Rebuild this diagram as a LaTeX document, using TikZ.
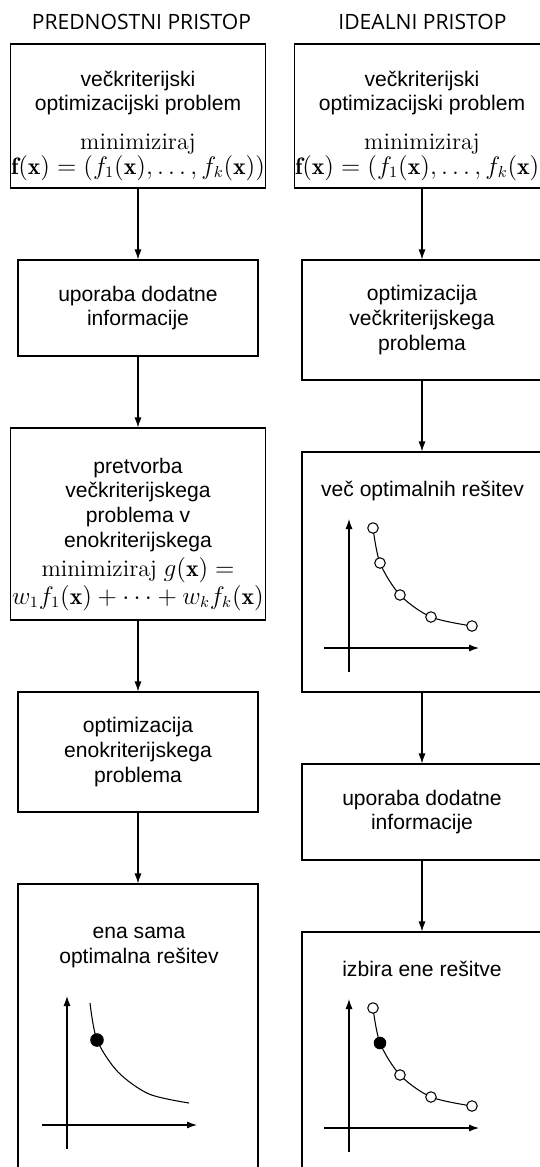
\documentclass[tikz,border=0pt]{standalone}
\usepackage{amsmath}
\usepackage{fontspec}
\newfontfamily\boxfont{Liberation Sans}
\newfontfamily\headfont{Open Sans}
\usetikzlibrary{positioning, arrows.meta, calc}
\newcommand{\mathsize}{\fontsize{13.5}{14}\selectfont}
\tikzset{
  procbox/.style={
    draw, line width=0.6pt, align=center, inner sep=2pt,
    font=\boxfont\fontsize{12}{14}\selectfont
  },
  boxtitle/.style={
    align=center, anchor=base, inner sep=0pt,
    font=\boxfont\fontsize{12}{14}\selectfont
  },
  head/.style={anchor=base, inner sep=0pt, font=\headfont\fontsize{12}{14}\selectfont},
  arrow/.style={-{Latex[length=2mm,width=1.4mm]}, line width=0.6pt},
  axis/.style={-{Latex[length=2mm,width=1.4mm]}, line width=0.6pt},
  front/.style={line width=0.6pt},
  sol/.style={circle, draw, fill=white, line width=0.6pt, inner sep=0pt, minimum size=2.1mm},
  best/.style={sol, fill=black}
}

\begin{document}
\begin{tikzpicture}
\useasboundingbox (0,0) rectangle (10.8,-23.34);

%% Headings
\node[head] (hpref) at (2.83,-0.58) {PREDNOSTNI PRISTOP};
\node[head] (hideal) at (8.45,-0.58) {IDEALNI PRISTOP};

%% Left column
\node[procbox, minimum width=5.1cm, minimum height=2.88cm] (l1) at (2.76,-2.32) {};
\node[boxtitle] (l1t) at (2.76,-3.48)
  {večkriterijski\\optimizacijski problem\\[8pt]
   {\mathsize$\mathrm{minimiziraj}$}\\
   {\mathsize$\mathbf{f}(\mathbf{x}) = (f_1(\mathbf{x}), \ldots, f_k(\mathbf{x}))$}};
\node[procbox, minimum width=4.8cm, minimum height=1.92cm] (l2) at (2.76,-6.16)
  {uporaba dodatne\\informacije};
\node[procbox, minimum width=5.1cm, minimum height=3.84cm] (l3) at (2.76,-10.48) {};
\node[boxtitle] (l3t) at (2.76,-12.08)
  {pretvorba\\večkriterijskega\\problema v\\enokriterijskega\\[3pt]
   {\mathsize$\mathrm{minimiziraj}\ g(\mathbf{x}) =$}\\
   {\mathsize$w_1 f_1(\mathbf{x}) + \cdots + w_k f_k(\mathbf{x})$}};
\node[procbox, minimum width=4.8cm, minimum height=2.4cm] (l4) at (2.76,-15.04)
  {optimizacija\\enokriterijskega\\problema};
\node[procbox, minimum width=4.8cm, minimum height=6cm] (l5) at (2.76,-20.68) {};
\node[boxtitle] (l5t) at (2.78,-19.26) {ena sama\\optimalna rešitev};

%% Right column
\node[procbox, minimum width=5.1cm, minimum height=2.88cm] (r1) at (8.44,-2.32) {};
\node[boxtitle] (r1t) at (8.44,-3.48)
  {večkriterijski\\optimizacijski problem\\[8pt]
   {\mathsize$\mathrm{minimiziraj}$}\\
   {\mathsize$\mathbf{f}(\mathbf{x}) = (f_1(\mathbf{x}), \ldots, f_k(\mathbf{x}))$}};
\node[procbox, minimum width=4.8cm, minimum height=2.4cm] (r2) at (8.44,-6.4)
  {optimizacija\\večkriterijskega\\problema};
\node[procbox, minimum width=4.8cm, minimum height=4.8cm] (r3) at (8.44,-11.44) {};
\node[boxtitle] (r3t) at (8.45,-9.92) {več optimalnih rešitev};
\node[procbox, minimum width=4.8cm, minimum height=1.92cm] (r4) at (8.44,-16.24)
  {uporaba dodatne\\informacije};
\node[procbox, minimum width=4.8cm, minimum height=6cm] (r5) at (8.44,-21.64) {};
\node[boxtitle] (r5t) at (8.44,-19.52) {izbira ene rešitve};

%% Flow
\foreach \a/\b in {l1/l2,l2/l3,l3/l4,l4/l5,r1/r2,r2/r3,r3/r4,r4/r5}
  \draw[arrow] (\a) -- (\b);

%% Single optimum
\begin{scope}[shift={(1.34,-22.5)}]
  \draw[axis] (0,-0.48) -- (0,2.58);
  \draw[axis] (-0.5,0) -- (2.6,0);
  \draw[front] plot[smooth] coordinates {(0.46,2.44) (0.6,1.7) (1.02,1.06) (1.64,0.62) (2.44,0.44)};
  \node[best, minimum size=2.5mm] (lbest) at (0.6,1.7) {};
\end{scope}

%% Pareto front
\begin{scope}[shift={(6.98,-12.96)}]
  \draw[axis] (0,-0.48) -- (0,2.58);
  \draw[axis] (-0.5,0) -- (2.6,0);
  \draw[front] plot[smooth] coordinates {(0.48,2.4) (0.62,1.7) (1.02,1.06) (1.64,0.62) (2.46,0.44)};
  \foreach \x/\y [count=\i] in {0.48/2.4, 0.62/1.7, 1.02/1.06, 1.64/0.62, 2.46/0.44}
    \node[sol] (pa\i) at (\x,\y) {};
\end{scope}

%% Chosen solution
\begin{scope}[shift={(6.98,-22.56)}]
  \draw[axis] (0,-0.48) -- (0,2.58);
  \draw[axis] (-0.5,0) -- (2.6,0);
  \draw[front] plot[smooth] coordinates {(0.48,2.4) (0.62,1.7) (1.02,1.06) (1.64,0.62) (2.46,0.44)};
  \foreach \x/\y [count=\i] in {0.48/2.4, 1.02/1.06, 1.64/0.62, 2.46/0.44}
    \node[sol] (pb\i) at (\x,\y) {};
  \node[best, minimum size=2.3mm] (pbest) at (0.62,1.7) {};
\end{scope}

\end{tikzpicture}
\end{document}
